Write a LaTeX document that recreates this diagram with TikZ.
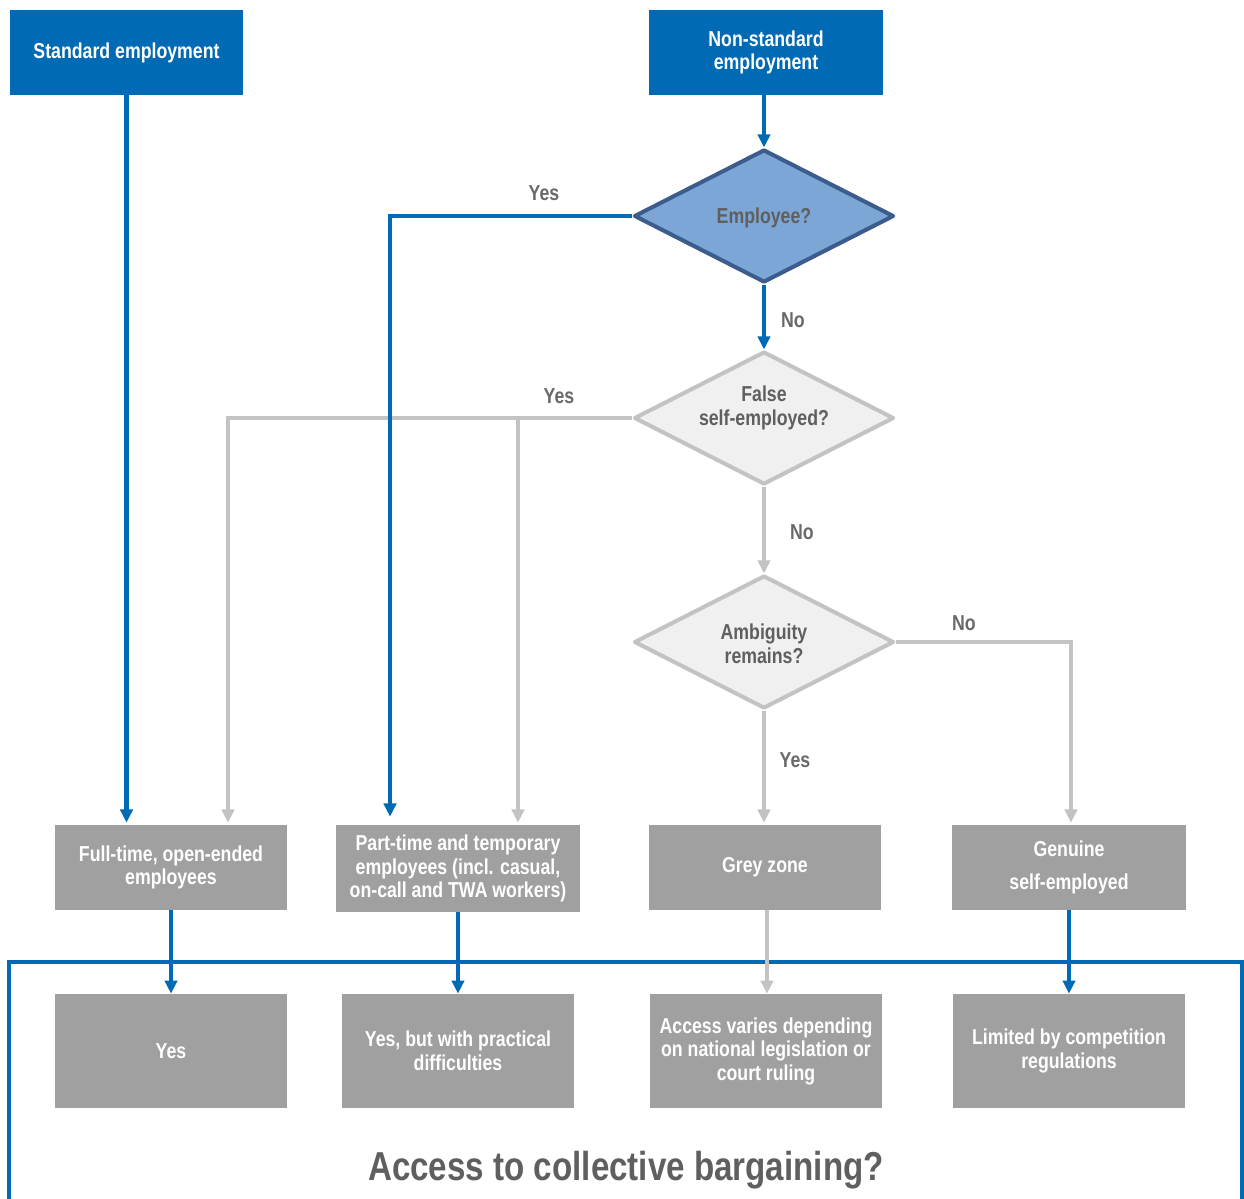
\documentclass[tikz,border=0pt]{standalone}
\usepackage{fontspec}
\setmainfont{Liberation Sans}[FakeStretch=0.82]
\usetikzlibrary{shapes.geometric,arrows.meta}
\definecolor{cblue}{RGB}{0,106,180}
\definecolor{dfill}{RGB}{123,166,214}
\definecolor{dborder}{RGB}{59,92,140}
\definecolor{gbox}{RGB}{160,160,160}
\definecolor{gline}{RGB}{195,195,195}
\definecolor{lfill}{RGB}{240,240,240}
\definecolor{dtxt}{RGB}{95,95,95}
\definecolor{ltxt}{RGB}{105,105,105}
\tikzset{
  bluebox/.style={rectangle, fill=cblue, text=white, align=center, inner sep=0pt},
  greybox/.style={rectangle, fill=gbox, text=white, align=center, inner sep=0pt},
  rowbox/.style={greybox, minimum width=4.64cm, minimum height=1.70cm},
  resbox/.style={greybox, minimum width=4.64cm, minimum height=2.28cm},
  bluediam/.style={diamond, fill=dfill, draw=dborder, line width=2.3pt, line join=round, minimum width=5.2cm, minimum height=2.66cm, inner sep=0pt, text=dtxt, align=center},
  greydiam/.style={diamond, fill=lfill, draw=gline, line width=2.3pt, line join=round, minimum width=5.2cm, minimum height=2.66cm, inner sep=0pt},
  dtext/.style={text=dtxt, align=center, inner sep=0pt},
  lab/.style={text=ltxt, inner sep=0pt},
  tip/.style={-{Triangle[length=7.5pt,width=7pt]}},
  bluearr/.style={tip, draw=cblue, line width=2.3pt},
  greyarr/.style={tip, draw=gline, line width=2.3pt},
  frameline/.style={draw=cblue, line width=1.8pt}
}
\begin{document}
\begin{tikzpicture}[x=0.02cm, y=-0.02cm, font=\bfseries\fontsize{12.3}{13.4}\selectfont]
\useasboundingbox (0,0) rectangle (1244,1198);

% top boxes
\node[bluebox, minimum width=4.66cm, minimum height=1.70cm] (std) at (126.5,52.5) {Standard employment};
\node[bluebox, minimum width=4.68cm, minimum height=1.70cm] (nonstd) at (766,52.5) {Non-standard\\employment};

% diamonds
\node[bluediam] (emp) at (764,216) {};
\node[dtext] (empt) at ([yshift=-0.03cm]emp.center) {Employee?};
\node[greydiam] (fse) at (764,418) {};
\node[dtext] (fset) at ([yshift=0.2cm]fse.center) {False\\self-employed?};
\node[greydiam] (amb) at (764,642) {};
\node[dtext] (ambt) at ([yshift=-0.03cm]amb.center) {Ambiguity\\remains?};

% row boxes
\node[rowbox] (full) at (171,867.5) {Full-time, open-ended\\employees};
\node[greybox, minimum width=4.88cm, minimum height=1.74cm] (part) at (458,868.5) {Part-time and temporary\\employees (incl. casual,\\on-call and TWA workers)};
\node[rowbox] (grey) at (765,867.5) {Grey zone};
\node[rowbox, minimum width=4.68cm] (gen) at (1069,867.5) {Genuine\\[5pt]self-employed};

% result boxes
\node[resbox] (yesb) at (171,1051) {Yes};
\node[resbox] (yesbut) at (458,1051) {Yes, but with practical\\difficulties};
\node[resbox] (access) at (766,1051) {Access varies depending\\on national legislation or\\court ruling};
\node[resbox] (limited) at (1069,1051) {Limited by competition\\regulations};

% frame
\coordinate (fl) at (9,1230);
\coordinate (ftl) at (9,962);
\coordinate (ftr) at (1242,962);
\coordinate (fr) at (1242,1230);
\draw[frameline] (fl) -- (ftl) -- (ftr) -- (fr);
\node[text=dtxt, font=\bfseries\fontsize{23}{26}\selectfont, inner sep=0pt] (title) at (626,1170) {Access to collective bargaining?};

% grey connectors
\draw[greyarr, shorten >=0.04cm] (fse.west) -| ([xshift=1.14cm]full.north);
\draw[greyarr, shorten >=0.04cm] ([xshift=1.2cm]part.north |- fse.west) -- ([xshift=1.2cm]part.north);
\draw[greyarr] (fse.south) -- (amb.north);
\draw[greyarr, shorten >=0.04cm] (amb.east) -| ([xshift=0.04cm]gen.north);
\draw[greyarr, shorten >=0.04cm] (amb.south) -- (amb.south |- grey.north);

% blue connectors
\draw[bluearr, shorten >=0.04cm] (std.south) -- (std.south |- full.north);
\draw[bluearr] (nonstd.south -| emp.north) -- (emp.north);
\draw[bluearr] (emp.south) -- (fse.north);
\draw[bluearr, shorten >=0.16cm] (emp.west) -| ([xshift=-1.36cm]part.north);

% to results
\draw[bluearr] (full.south) -- (yesb.north);
\draw[bluearr] (part.south) -- (yesbut.north);
\draw[greyarr] ([xshift=0.04cm]grey.south) -- ([xshift=0.04cm]grey.south |- access.north);
\draw[bluearr] (gen.south) -- (limited.north);

% labels
\node[lab] (l1) at (544,193) {Yes};
\node[lab] (l2) at (793,320) {No};
\node[lab] (l3) at (559,396) {Yes};
\node[lab] (l4) at (802,532) {No};
\node[lab] (l5) at (964,623) {No};
\node[lab] (l6) at (795,760) {Yes};
\end{tikzpicture}
\end{document}
